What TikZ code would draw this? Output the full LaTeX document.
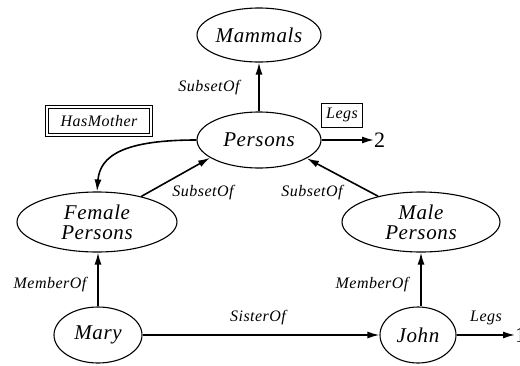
\documentclass[tikz,border=0pt]{standalone}
\usepackage{fontspec}
\setmainfont{Liberation Serif}
\usetikzlibrary{shapes.geometric,arrows.meta}

\begin{document}
\begin{tikzpicture}[x=1pt,y=-1pt,
  concept/.style={ellipse, draw, line width=1.1pt, inner sep=0pt, align=center,
    font=\fontsize{21}{20}\selectfont\itshape\addfontfeature{LetterSpace=3}},
  rel/.style={line width=1.6pt, -{Latex[length=12pt,width=7pt]}},
  lbl/.style={inner sep=0pt, font=\fontsize{16}{16}\selectfont\itshape\addfontfeature{LetterSpace=3}},
  valtext/.style={inner sep=0pt, font=\fontsize{22}{22}\selectfont},
  slotbox/.style={draw, line width=1pt, inner sep=0pt, minimum width=41pt, minimum height=24pt,
    font=\fontsize{16}{16}\selectfont\itshape\addfontfeature{LetterSpace=3}},
  dblbox/.style={draw, double, line width=0.9pt, double distance=1.8pt, inner sep=0pt,
    minimum width=104pt, minimum height=28pt,
    font=\fontsize{16}{16}\selectfont\itshape\addfontfeature{LetterSpace=3}}]
  \useasboundingbox (0,0) rectangle (520,365);

  % concept nodes
  \node[concept, minimum width=124pt, minimum height=54pt] (mammals) at (259,35) {Mammals};
  \node[concept, minimum width=124pt, minimum height=56pt] (persons) at (259,140) {Persons};
  \node[concept, minimum width=160pt, minimum height=60pt] (female) at (97,222) {Female\\Persons};
  \node[concept, minimum width=158pt, minimum height=60pt] (male) at (421,222) {Male\\Persons};
  \node[concept, minimum width=88pt, minimum height=56pt] (mary) at (98,335) {Mary};
  \node[concept, minimum width=76pt, minimum height=56pt] (john) at (418,335) {John};

  % values
  \node[valtext, anchor=west] (two) at (374,140) {2};
  \node[valtext, anchor=west] (one) at (515,335) {1};

  % relation boxes
  \node[dblbox] (hasmother) at (99,121) {HasMother};
  \node[slotbox] (legsbox) at (342,115) {Legs};

  % links
  \draw[rel] (persons.north) -- (mammals.south);
  \draw[rel] (female.30) -- (persons.200);
  \draw[rel] (male.149) -- (persons.339);
  \draw[rel] (persons.west) .. controls (125,140) and (100,155) .. (female.north);
  \draw[rel] (persons.east) -- (two.west);
  \draw[rel] (mary.north) -- (mary.north |- female.south);
  \draw[rel] (john.north -| male.south) -- (male.south);
  \draw[rel] (mary.east) -- (john.west);
  \draw[rel] (john.east) -- (one.west);

  % link labels
  \node[lbl] (l1) at (209,88) {SubsetOf};
  \node[lbl] (l2) at (203,193) {SubsetOf};
  \node[lbl] (l3) at (312,193) {SubsetOf};
  \node[lbl] (l4) at (50,285) {MemberOf};
  \node[lbl] (l5) at (372,285) {MemberOf};
  \node[lbl] (l6) at (258,318) {SisterOf};
  \node[lbl] (l7) at (486,318) {Legs};
\end{tikzpicture}
\end{document}
